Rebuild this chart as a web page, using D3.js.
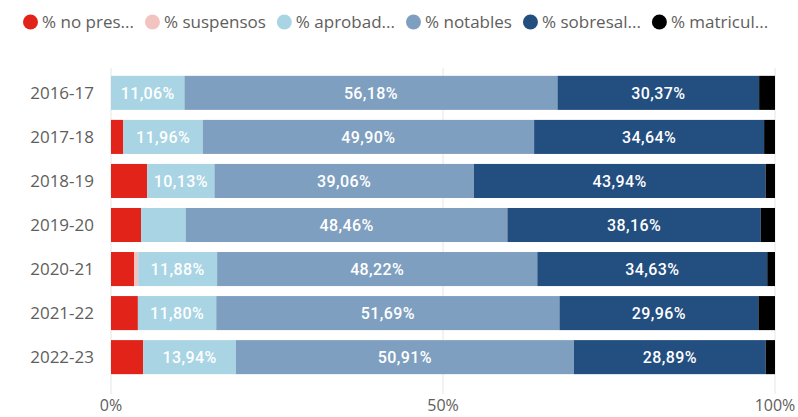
<!DOCTYPE html>
<html>
<head>
<meta charset="utf-8">
<script src="https://cdn.jsdelivr.net/npm/d3@7"></script>
<style>
  html, body { margin: 0; padding: 0; background: #ffffff; }
  svg { display: block; }
</style>
</head>
<body>
<svg id="chart" width="798" height="417"></svg>
<script>
// Academic years (one bar each)
const years = ["2016-17", "2017-18", "2018-19", "2019-20", "2020-21", "2021-22", "2022-23"];

// Share of students per grade band, in percent
const noPresentados  = [0.00, 1.86, 5.45, 4.52, 3.50, 4.05, 4.86];
const suspensos      = [0.00, 0.00, 0.00, 0.00, 0.60, 0.00, 0.00];
const aprobados      = [11.06, 11.96, 10.13, 6.72, 11.88, 11.80, 13.94];
const notables       = [56.18, 49.90, 39.06, 48.46, 48.22, 51.69, 50.91];
const sobresalientes = [30.37, 34.64, 43.94, 38.16, 34.63, 29.96, 28.89];
const matriculas     = [2.39, 1.64, 1.42, 2.14, 1.17, 2.50, 1.40];

const seriesNames = ["% no pres...", "% suspensos", "% aprobad...", "% notables", "% sobresal...", "% matricul..."];
const seriesColors = ["#e2231a", "#f2c4c0", "#a8d4e4", "#7f9fc0", "#234e80", "#000000"];
const seriesValues = [noPresentados, suspensos, aprobados, notables, sobresalientes, matriculas];
const labelledSeries = [2, 3, 4];

const tickValues = [0, 50, 100];

const svg = d3.select("#chart");

const x = d3.scaleLinear().domain([0, 100]).range([111, 775]);
const y = d3.scaleBand().domain(years).range([71, 379]).paddingInner(0.227).paddingOuter(0.11);

// Vertical gridlines
svg.append("g")
  .selectAll("line")
  .data(tickValues)
  .join("line")
  .attr("x1", d => x(d)).attr("x2", d => x(d))
  .attr("y1", 68).attr("y2", 394)
  .attr("stroke", "#e6e6e6")
  .attr("stroke-width", 1);

// Build stacked rows
const rows = years.map((yr, i) => {
  const r = { year: yr };
  seriesValues.forEach((arr, s) => { r["s" + s] = arr[i]; });
  return r;
});
const keys = seriesValues.map((_, s) => "s" + s);
const stacked = d3.stack().keys(keys)(rows);

const layers = svg.append("g")
  .selectAll("g")
  .data(stacked)
  .join("g")
  .attr("fill", (d, i) => seriesColors[i]);

layers.selectAll("rect")
  .data(d => d)
  .join("rect")
  .attr("x", d => x(d[0]))
  .attr("width", d => Math.max(0, x(d[1]) - x(d[0])))
  .attr("y", d => y(d.data.year))
  .attr("height", y.bandwidth());

// Data labels inside the wide segments
const fmt = v => v.toFixed(2).replace(".", ",") + "%";
const labelG = svg.append("g")
  .attr("font-family", "Roboto, 'DejaVu Sans', sans-serif")
  .attr("font-weight", 500)
  .attr("font-size", 16)
  .attr("letter-spacing", 0.4)
  .attr("fill", "#ffffff")
  .attr("text-anchor", "middle");

labelledSeries.forEach(s => {
  stacked[s].forEach(d => {
    const w = x(d[1]) - x(d[0]);
    const t = labelG.append("text")
      .attr("x", (x(d[0]) + x(d[1])) / 2)
      .attr("y", y(d.data.year) + y.bandwidth() / 2)
      .attr("dy", "0.36em")
      .text(fmt(d[1] - d[0]));
    if (t.node().getComputedTextLength() + 8 > w) t.remove();
  });
});

// Category axis labels
svg.append("g")
  .attr("font-family", "'Open Sans', 'DejaVu Sans', sans-serif")
  .attr("font-size", 17)
  .attr("fill", "#605e5c")
  .attr("text-anchor", "end")
  .selectAll("text")
  .data(years)
  .join("text")
  .attr("x", 94)
  .attr("y", d => y(d) + y.bandwidth() / 2)
  .attr("dy", "0.35em")
  .text(d => d);

// Value axis labels
svg.append("g")
  .attr("font-family", "'Open Sans', 'DejaVu Sans', sans-serif")
  .attr("font-size", 16)
  .attr("fill", "#605e5c")
  .attr("text-anchor", "middle")
  .selectAll("text")
  .data(tickValues)
  .join("text")
  .attr("x", d => x(d))
  .attr("y", 405)
  .attr("dy", "0.35em")
  .text(d => d + "%");

// Legend
const legend = svg.append("g")
  .attr("font-family", "'Open Sans', 'DejaVu Sans', sans-serif")
  .attr("font-size", 17)
  .attr("fill", "#605e5c");
let lx = 23;
seriesNames.forEach((name, i) => {
  legend.append("circle")
    .attr("cx", lx + 7.5).attr("cy", 22).attr("r", 7.5)
    .attr("fill", seriesColors[i]);
  const t = legend.append("text")
    .attr("x", lx + 19).attr("y", 22).attr("dy", "0.35em")
    .text(name);
  lx += 19 + t.node().getComputedTextLength() + 11;
});
</script>
</body>
</html>
